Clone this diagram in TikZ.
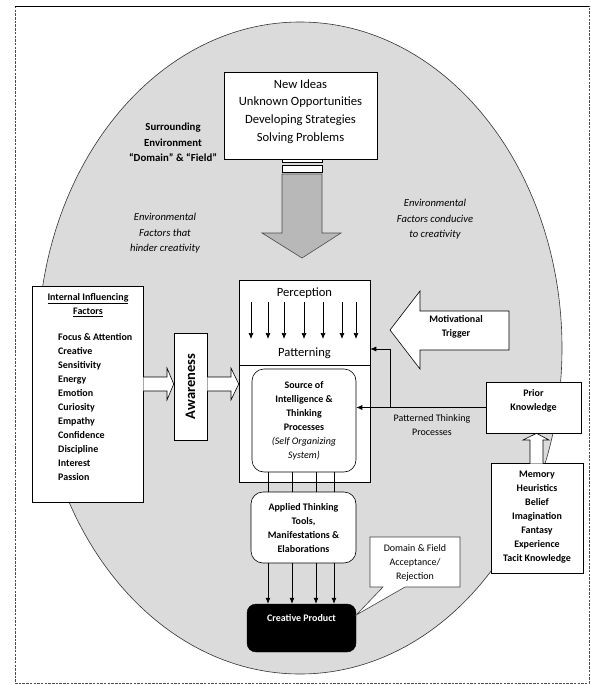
\documentclass[tikz,border=0pt]{standalone}
\usepackage{fontspec}
\setmainfont{Carlito}
\usetikzlibrary{arrows.meta}
\begin{document}
\begin{tikzpicture}[x=1pt,y=-1pt,
  box/.style={draw=black, fill=white, line width=0.6pt, inner sep=0pt},
  rbox/.style={box, rounded corners=12pt},
  txt/.style={inner sep=0pt, align=center},
  small/.style={font=\fontsize{10}{14}\selectfont\bfseries},
  reg/.style={font=\fontsize{10}{14}\selectfont},
  ital/.style={font=\fontsize{10.6}{15.5}\selectfont\itshape},
  big/.style={font=\fontsize{12.6}{17.6}\selectfont},
  blockarrow/.style={draw=black, fill=white, line width=0.6pt},
  conn/.style={draw=black, line width=0.7pt},
  arr/.style={conn, -{Latex[length=6pt,width=5pt]}}]
\useasboundingbox (0,0) rectangle (591,685);
% frame
\draw[black!70, dash pattern=on 2.5pt off 1.2pt, line width=0.6pt] (15,6) rectangle (589,683);
\draw[black, line width=0.6pt] (15,6) -- (589,6);
% environment ellipse
\draw[fill=black!14, line width=0.6pt, draw=black!80] (300,348) ellipse [x radius=262, y radius=326];

% top box
\node[box, minimum width=153pt, minimum height=87pt] (ideas) at (300.5,115.5) {};
\node[txt, big] (ideastxt) at (300.5,111.5) {New Ideas\\Unknown Opportunities\\Developing Strategies\\Solving Problems};

% big down arrow
\draw[fill=black!28, draw=black!70, line width=0.6pt] (282,174) -- (322,174) -- (322,233) -- (341,233) -- (302,258) -- (262,233) -- (282,233) -- cycle;
\draw[fill=white, draw=black, line width=0.6pt] (282,165) rectangle (322,172);
\draw[fill=white, draw=black, line width=0.6pt] (282,159.5) rectangle (322,162.5);

% environment labels
\node[txt, font=\fontsize{10.8}{15.5}\selectfont\bfseries] (surr) at (173,142.5) {Surrounding\\Environment\\``Domain'' \& ``Field''};
\node[txt, ital] (hinder) at (165,233.5) {Environmental\\Factors that\\hinder creativity};
\node[txt, ital] (conducive) at (435,219.5) {Environmental\\Factors conducive\\to creativity};

% core box
\node[box, minimum width=131pt, minimum height=202pt] (core) at (304.5,381) {};
\draw[conn] (core.west |- 0,365) -- (core.east |- 0,365);
\node[txt, font=\fontsize{12.6}{14}\selectfont] (perc) at (304.5,293) {Perception};
\node[txt, font=\fontsize{12.6}{14}\selectfont] (patt) at (304.5,353) {Patterning};
\foreach \x/\n in {251/a,268/b,284/c,304/d,323/e,342/f,356/g} {
  \coordinate (p\n) at (\x,302);
  \coordinate (q\n) at (\x,339);
  \draw[arr] (p\n) -- (q\n);
}

% source box
\node[rbox, minimum width=104pt, minimum height=103pt] (source) at (304,420.5) {};
\node[txt, small] (sourcetxt) at (304,421) {Source of\\Intelligence \&\\Thinking\\Processes\\{\mdseries\itshape(Self Organizing}\\{\mdseries\itshape System)}};

% applied box
\node[rbox, minimum width=105pt, minimum height=71pt] (applied) at (303.5,527.5) {};
\node[txt, small] (appliedtxt) at (303.5,528) {Applied Thinking\\Tools,\\Manifestations \&\\Elaborations};

% creative product
\node[draw=black, fill=black, rounded corners=9pt, minimum width=109pt, minimum height=48pt, inner sep=0pt] (product) at (301.5,628) {};
\node[txt, small, text=white] (producttxt) at (301.5,618) {Creative Product};

% connectors core -> applied -> product
\foreach \x/\n in {268/a,292/b,316/c,334/d} {
  \coordinate (v\n) at (\x,0);
  \draw[conn] (source.south -| v\n) -- (applied.north -| v\n);
  \draw[arr] (applied.south -| v\n) -- (product.north -| v\n);
}

% callout
\draw[fill=white, draw=black!75, line width=0.6pt] (370,537) -- (460,537) -- (460,587) -- (405,587) -- (product.east |- 0,615) -- (383,587) -- (370,587) -- cycle;
\node[txt, reg] (callout) at (415,563) {Domain \& Field\\Acceptance/\\Rejection};

% internal factors
\node[box, minimum width=111pt, minimum height=216pt] (internal) at (87.5,394) {};
\node[txt, small] (inttitle) at (88,305) {\underline{Internal Influencing}\\\underline{Factors}};
\node[inner sep=0pt, align=left, small, anchor=north west] (intlist) at (58,333) {Focus \& Attention\\Creative\\Sensitivity\\Energy\\Emotion\\Curiosity\\Empathy\\Confidence\\Discipline\\Interest\\Passion};

% awareness
\node[box, minimum width=33pt, minimum height=107pt] (aware) at (190.5,386.5) {};
\node[txt, rotate=90, font=\fontsize{14.5}{16}\selectfont\bfseries] (awaretxt) at (aware.center) {Awareness};

% block arrows right
\draw[blockarrow] (internal.east |- 0,377) -- (167,377) -- (167,368) -- (aware.west |- 0,384) -- (167,400) -- (167,391) -- (internal.east |- 0,391);
\draw[blockarrow] (aware.east |- 0,377) -- (231,377) -- (231,368) -- (core.west |- 0,384) -- (231,400) -- (231,391) -- (aware.east |- 0,391);

% motivational trigger
\draw[blockarrow] (390,330) -- (420,291) -- (420,311) -- (509,311) -- (509,350) -- (420,350) -- (420,369) -- cycle;
\node[txt, small] (motiv) at (456,327) {Motivational\\Trigger};

% prior knowledge
\node[box, minimum width=95pt, minimum height=51pt] (prior) at (533.5,407.5) {};
\node[txt, small] (priortxt) at (533.5,400.5) {Prior\\Knowledge};
\draw[arr] (prior.west) -- (prior.west -| source.east);
\coordinate (br) at (390,407.5);
\coordinate (brup) at (390,349);
\draw[arr] (br) -- (brup) -- (brup -| core.east);
\node[txt, reg] (pattproc) at (432,425) {Patterned Thinking\\Processes};

% memory
\node[box, minimum width=92pt, minimum height=110pt] (memory) at (537,518) {};
\node[txt, small] (memtxt) at (537,517) {Memory\\Heuristics\\Belief\\Imagination\\Fantasy\\Experience\\Tacit Knowledge};
\draw[blockarrow] (530,463.5) -- (530,440) -- (523,440) -- (prior.south -| 536.5,0) -- (549,440) -- (543,440) -- (543,463.5);
\end{tikzpicture}
\end{document}
